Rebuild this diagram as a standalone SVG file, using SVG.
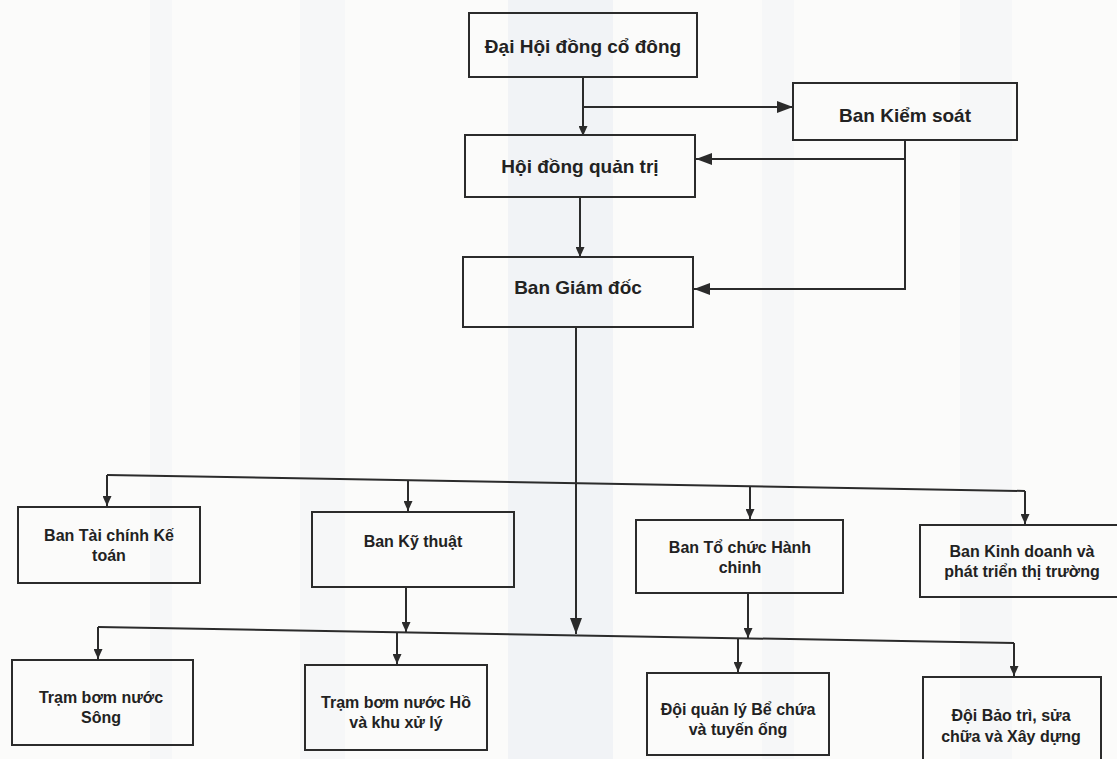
<svg xmlns="http://www.w3.org/2000/svg" width="1117" height="759" viewBox="0 0 1117 759">
<style>
  .box { fill: none; stroke: #2b2b2b; stroke-width: 2; }
  .t19 { font-family: "Liberation Sans", Arial, sans-serif; font-size: 19px; font-weight: bold; fill: #222; text-anchor: middle; }
  .t16 { font-family: "Liberation Sans", Arial, sans-serif; font-size: 16px; font-weight: bold; fill: #222; text-anchor: middle; }
  .ln { fill: none; stroke: #2b2b2b; stroke-width: 2; }
  .band { fill: #f1f3f6; }
  .band2 { fill: #f6f7f8; }
</style>
<defs>
  <marker id="big" markerUnits="userSpaceOnUse" markerWidth="16" markerHeight="12" viewBox="0 0 16 12" refX="16" refY="6" orient="auto">
    <path d="M0,0 L16,6 L0,12 z" fill="#2b2b2b"/>
  </marker>
  <marker id="small" markerUnits="userSpaceOnUse" markerWidth="10" markerHeight="9" viewBox="0 0 10 9" refX="10" refY="4.5" orient="auto">
    <path d="M0,0 L10,4.5 L0,9 z" fill="#2b2b2b"/>
  </marker>
</defs>
<rect x="0" y="0" width="1117" height="759" fill="#fbfbfa"/>
<rect class="band2" x="150" y="0" width="22" height="759"/>
<rect class="band2" x="300" y="0" width="45" height="759"/>
<rect class="band" x="508" y="0" width="105" height="759"/>
<rect class="band2" x="762" y="0" width="32" height="759"/>
<rect class="band2" x="960" y="0" width="52" height="759"/>

<g id="connectors">
  <path class="ln" d="M583,77 V136" marker-end="url(#small)"/>
  <path class="ln" d="M583,107 H793" marker-end="url(#big)"/>
  <path class="ln" d="M905,140 V289 H694" marker-end="url(#big)"/>
  <path class="ln" d="M905,159 H696" marker-end="url(#big)"/>
  <path class="ln" d="M580,197 V257" marker-end="url(#small)"/>
  <path class="ln" d="M576,327 V634" marker-end="url(#big)"/>
  <path class="ln" d="M107,475 L1025,491"/>
  <path class="ln" d="M107,475 V506" marker-end="url(#small)"/>
  <path class="ln" d="M408,480 V511" marker-end="url(#small)"/>
  <path class="ln" d="M750,486 V519" marker-end="url(#small)"/>
  <path class="ln" d="M1025,491 V524" marker-end="url(#small)"/>
  <path class="ln" d="M406,587 V632" marker-end="url(#small)"/>
  <path class="ln" d="M748,593 V638" marker-end="url(#small)"/>
  <path class="ln" d="M98,627 L1014,643"/>
  <path class="ln" d="M98,627 V659" marker-end="url(#small)"/>
  <path class="ln" d="M397,632 V664" marker-end="url(#small)"/>
  <path class="ln" d="M738,638 V672" marker-end="url(#small)"/>
  <path class="ln" d="M1014,643 V676" marker-end="url(#small)"/>
</g>

<g id="dai-hoi">
  <rect class="box" x="469" y="13" width="228" height="64"/>
  <text class="t19" x="583" y="53">Đại Hội đồng cổ đông</text>
</g>
<g id="ban-kiem-soat">
  <rect class="box" x="793" y="83" width="224" height="57"/>
  <text class="t19" x="905" y="122">Ban Kiểm soát</text>
</g>
<g id="hoi-dong-quan-tri">
  <rect class="box" x="465" y="135" width="230" height="62"/>
  <text class="t19" x="580" y="173">Hội đồng quản trị</text>
</g>
<g id="ban-giam-doc">
  <rect class="box" x="463" y="257" width="230" height="70"/>
  <text class="t19" x="578" y="294">Ban Giám đốc</text>
</g>

<g id="ban-tai-chinh">
  <rect class="box" x="18" y="507" width="182" height="76"/>
  <text class="t16" x="109" y="541">Ban Tài chính Kế</text>
  <text class="t16" x="109" y="561">toán</text>
</g>
<g id="ban-ky-thuat">
  <rect class="box" x="312" y="512" width="202" height="75"/>
  <text class="t16" x="413" y="547">Ban Kỹ thuật</text>
</g>
<g id="ban-to-chuc">
  <rect class="box" x="636" y="520" width="207" height="73"/>
  <text class="t16" x="740" y="553">Ban Tổ chức Hành</text>
  <text class="t16" x="740" y="573">chinh</text>
</g>
<g id="ban-kinh-doanh">
  <rect class="box" x="920" y="525" width="205" height="72"/>
  <text class="t16" x="1022" y="557">Ban Kinh doanh và</text>
  <text class="t16" x="1022" y="577">phát triển thị trường</text>
</g>

<g id="tram-song">
  <rect class="box" x="12" y="660" width="181" height="85"/>
  <text class="t16" x="101" y="703">Trạm bơm nước</text>
  <text class="t16" x="101" y="723">Sông</text>
</g>
<g id="tram-ho">
  <rect class="box" x="305" y="665" width="182" height="85"/>
  <text class="t16" x="396" y="708">Trạm bơm nước Hồ</text>
  <text class="t16" x="396" y="728">và khu xử lý</text>
</g>
<g id="doi-quan-ly">
  <rect class="box" x="647" y="673" width="182" height="82"/>
  <text class="t16" x="738" y="715">Đội quản lý Bể chứa</text>
  <text class="t16" x="738" y="735">và tuyến ống</text>
</g>
<g id="doi-bao-tri">
  <rect class="box" x="923" y="677" width="178" height="88"/>
  <text class="t16" x="1011" y="721">Đội Bảo trì, sửa</text>
  <text class="t16" x="1011" y="742">chữa và Xây dựng</text>
</g>
</svg>
